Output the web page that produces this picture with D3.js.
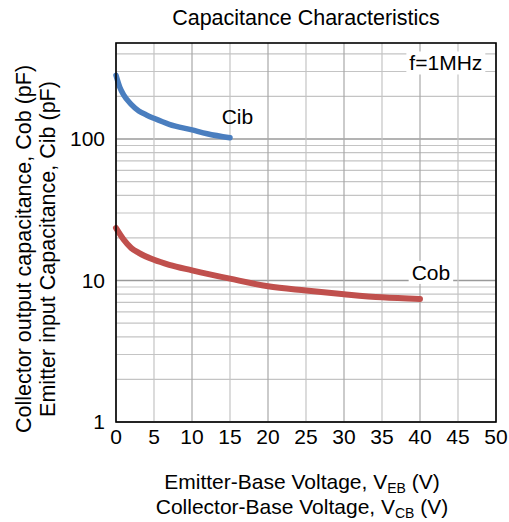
<!DOCTYPE html>
<html>
<head>
<meta charset="utf-8">
<script src="https://cdn.jsdelivr.net/npm/d3@7"></script>
<style>
  body { margin: 0; background: #fff; }
  text { font-family: "Liberation Sans", Arial, sans-serif; fill: #000; }
</style>
</head>
<body>
<svg id="chart" width="509" height="522"></svg>
<script>
// data
const cibV = [0, 0.5, 1, 2, 3, 4, 5, 7, 10, 12, 15];
const cibC = [282, 232, 205, 176, 158, 148, 140, 127, 116, 109, 102];
const cobV = [0, 1, 2, 3, 5, 7, 10, 15, 20, 25, 30, 35, 40];
const cobC = [23.5, 19.5, 17.0, 15.7, 14.0, 12.9, 11.8, 10.3, 9.1, 8.5, 8.0, 7.6, 7.4];
const xTicks = [0, 5, 10, 15, 20, 25, 30, 35, 40, 45, 50];
const yTicks = [1, 10, 100];
const yMinor = [2, 3, 4, 5, 6, 7, 8, 9, 20, 30, 40, 50, 60, 70, 80, 90, 200, 300, 400];

function drawChart(holder){
  let svg = d3.select(holder);
  let margin = {"left": 116, "top": 43, "right": 13, "bottom": 100};
  let width = 509 - margin.left - margin.right;
  let height = 522 - margin.top - margin.bottom;
  let fs = "21px";

  let xScale = d3.scaleLinear().domain([0, 50]).range([0, width]);
  let yScale = d3.scaleLog().domain([1, 477]).range([height, 0]);

  svg.append("text")
    .attr("x", margin.left + width / 2)
    .attr("y", 25)
    .attr("text-anchor", "middle")
    .style("font-size", "21.5px")
    .text("Capacitance Characteristics");

  let g = svg.append("g").attr("transform", "translate(" + margin.left + "," + margin.top + ")");

  // grid
  g.append("g").selectAll("line.minor")
    .data(yMinor)
    .enter().append("line")
    .attr("x1", 0).attr("x2", width)
    .attr("y1", d => yScale(d)).attr("y2", d => yScale(d))
    .attr("stroke", "#c4c4c4").attr("stroke-width", 1.2);
  g.append("g").selectAll("line.major")
    .data(yTicks)
    .enter().append("line")
    .attr("x1", 0).attr("x2", width)
    .attr("y1", d => yScale(d)).attr("y2", d => yScale(d))
    .attr("stroke", "#9a9a9a").attr("stroke-width", 1.4);
  g.append("g").selectAll("line.vert")
    .data(xTicks)
    .enter().append("line")
    .attr("y1", 0).attr("y2", height)
    .attr("x1", d => xScale(d)).attr("x2", d => xScale(d))
    .attr("stroke", (d, i) => i % 2 ? "#c4c4c4" : "#a8a8a8").attr("stroke-width", 1.2);

  const line = d3.line()
    .x(d => xScale(d[0]))
    .y(d => yScale(d[1]))
    .curve(d3.curveMonotoneX);

  g.append("path")
    .attr("d", line(d3.zip(cibV, cibC)))
    .attr("fill", "none").attr("stroke", "#4a7ebf")
    .attr("stroke-width", 5.5).attr("stroke-linecap", "round");
  g.append("path")
    .attr("d", line(d3.zip(cobV, cobC)))
    .attr("fill", "none").attr("stroke", "#c0504d")
    .attr("stroke-width", 6).attr("stroke-linecap", "round");

  // labels with white backing
  function boxLabel(x, y, txt){
    let t = g.append("text").attr("x", x).attr("y", y).style("font-size", fs).text(txt);
    let b = t.node().getBBox();
    g.insert("rect", () => t.node())
      .attr("x", b.x - 3).attr("y", b.y).attr("width", b.width + 6).attr("height", b.height)
      .attr("fill", "#fff");
  }
  boxLabel(xScale(38.9), yScale(10.1), "Cob");
  boxLabel(xScale(38.6), yScale(305), "f=1MHz");
  g.append("text").attr("x", xScale(13.9)).attr("y", yScale(128))
    .style("font-size", fs).text("Cib");

  // frame
  g.append("rect").attr("width", width).attr("height", height)
    .attr("fill", "none").attr("stroke", "#000").attr("stroke-width", 1.6);

  // tick labels
  g.append("g").selectAll("text")
    .data(xTicks).enter().append("text")
    .attr("x", d => xScale(d)).attr("y", height + 22)
    .attr("text-anchor", "middle")
    .style("font-size", fs)
    .text(d => d);
  g.append("g").selectAll("text")
    .data(yTicks).enter().append("text")
    .attr("x", -11).attr("y", d => yScale(d) + 7)
    .attr("text-anchor", "end")
    .style("font-size", fs)
    .text(d => d);

  // axis titles
  let xt = svg.append("g").attr("transform", "translate(302,0)");
  let l1 = xt.append("text").attr("y", 489).attr("text-anchor", "middle").style("font-size", fs);
  l1.append("tspan").text("Emitter-Base Voltage, V");
  l1.append("tspan").attr("dy", 4).style("font-size", "14px").text("EB");
  l1.append("tspan").attr("dy", -4).text(" (V)");
  let l2 = xt.append("text").attr("y", 514).attr("text-anchor", "middle").style("font-size", fs);
  l2.append("tspan").text("Collector-Base Voltage, V");
  l2.append("tspan").attr("dy", 4).style("font-size", "14px").text("CB");
  l2.append("tspan").attr("dy", -4).text(" (V)");

  let yt = svg.append("g").attr("transform", "translate(0,249) rotate(-90)");
  yt.append("text").attr("y", 31).attr("text-anchor", "middle").style("font-size", "21.5px")
    .text("Collector output capacitance, Cob (pF)");
  yt.append("text").attr("y", 55).attr("text-anchor", "middle").style("font-size", "21.5px")
    .text("Emitter input Capacitance, Cib (pF)");
}

drawChart("#chart");
</script>
</body>
</html>
